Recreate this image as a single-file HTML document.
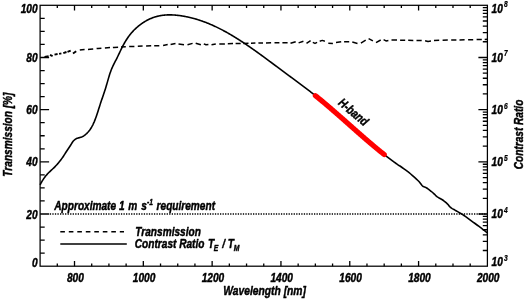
<!DOCTYPE html>
<html><head><meta charset="utf-8"><title>plot</title>
<style>
html,body{margin:0;padding:0;background:#fff;}
body{width:524px;height:300px;overflow:hidden;}
svg{display:block;will-change:transform;}
text{font-family:"Liberation Sans",sans-serif;font-weight:bold;font-style:italic;fill:#000;stroke:#000;stroke-width:0.45px;stroke-linejoin:round;}
</style></head><body>
<svg width="524" height="300" viewBox="0 0 524 300">
<rect width="524" height="300" fill="#fff"/>
<path d="M79.8,50.1 L82.0,49.8 L84.6,49.6 M88.0,49.4 L90.0,49.2 L93.2,48.9 M96.6,48.5 L98.0,48.4 L101.4,48.2 M104.9,48.0 L110.0,47.6 M112.9,47.5 L114.0,47.4 L118.1,47.2 M121.0,47.0 L125.8,46.8 M129.2,46.6 L133.0,46.4 L134.4,46.4 M137.8,46.2 L142.6,46.1 M146.1,46.0 L151.2,45.8 M154.2,45.8 L159.3,45.7 M163.1,45.4 L167.7,44.5 M170.6,44.6 L175.5,43.6 M178.5,44.0 L184.0,44.8 M187.5,44.8 L192.6,43.4 M195.7,43.2 L200.9,44.8 M203.8,43.9 L206.0,44.8 L208.4,44.6 M211.5,44.7 L215.8,44.0 M219.3,44.0 L224.9,43.9 M227.8,43.7 L233.0,43.6 M235.6,43.5 L240.7,43.4 M243.3,43.4 L248.5,43.2 M251.0,43.2 L255.4,43.1 M258.4,43.0 L261.3,42.9 L263.0,42.9 M266.0,42.9 L271.1,42.8 M274.5,42.8 L279.4,42.8 M282.4,42.8 L287.6,42.8 M290.5,43.3 L295.7,41.7 M298.6,42.9 L303.4,41.2 M306.5,43.3 L310.6,40.6 M312.8,42.4 L315.0,43.4 L317.1,42.4 M319.7,41.2 L322.3,40.4 L324.9,41.2 M328.3,43.3 L332.9,43.5 M336.0,42.6 L341.2,41.8 M344.1,41.7 L349.2,41.7 M352.3,42.1 L357.5,43.4 M360.9,43.1 L365.7,40.2 M368.6,38.6 L372.9,40.9 M376.0,42.6 L380.7,40.0 M383.6,39.7 L386.0,40.9 L388.4,40.4 M391.5,40.1 L397.0,40.1 M400.1,40.2 L405.2,40.2 M408.2,40.3 L413.3,40.4 M416.5,40.5 L419.0,40.5 L421.7,40.6 M425.1,40.7 L428.0,41.4 L431.0,41.0 M434.0,40.4 L439.2,40.3 M442.6,40.2 L447.8,40.1 M451.2,40.0 L451.8,40.0 L456.4,39.9 M459.5,39.9 L464.6,39.8 M468.1,39.8 L473.2,39.7 M476.6,39.6 L481.8,39.6 M484.7,39.5 L487.4,39.2" fill="none" stroke="#000" stroke-width="1.5" stroke-linejoin="round"/>
<path d="M44.5,56.9 L48.6,56.3 M50.0,54.9 L52.6,56.2 M54.5,54.6 L57.6,54.0 M59.1,53.9 L61.4,53.3 M63.3,53.1 L66.5,52.0 M67.5,51.9 L70.7,50.6 M73.0,53.5 L76.2,51.2" fill="none" stroke="#000" stroke-width="1.9"/>
<path d="M49.8,214.0 H487.4" fill="none" stroke="#000" stroke-width="1.45" stroke-dasharray="1.3 1.24"/>
<path d="M40.10,184.96 L40.60,183.95 L41.10,182.99 L41.60,182.07 L42.10,181.20 L42.60,180.37 L43.10,179.58 L43.60,178.82 L44.10,178.10 L44.60,177.41 L45.10,176.75 L45.60,176.12 L46.10,175.51 L46.60,174.93 L47.10,174.37 L47.60,173.83 L48.10,173.31 L48.60,172.80 L49.10,172.30 L49.60,171.81 L50.10,171.34 L50.60,170.86 L51.10,170.40 L51.60,169.93 L52.10,169.47 L52.60,169.00 L53.10,168.53 L53.60,168.05 L54.10,167.56 L54.60,167.06 L55.10,166.56 L55.60,166.04 L56.10,165.51 L56.60,164.98 L57.10,164.43 L57.60,163.86 L58.10,163.29 L58.60,162.70 L59.10,162.10 L59.60,161.48 L60.10,160.85 L60.60,160.20 L61.10,159.53 L61.60,158.85 L62.10,158.15 L62.60,157.44 L63.10,156.70 L63.60,155.95 L64.10,155.17 L64.60,154.38 L65.10,153.58 L65.60,152.78 L66.10,151.99 L66.60,151.22 L67.10,150.47 L67.60,149.73 L68.10,149.01 L68.60,148.28 L69.10,147.55 L69.60,146.80 L70.10,146.03 L70.60,145.23 L71.10,144.39 L71.60,143.55 L72.10,142.73 L72.60,141.97 L73.10,141.31 L73.60,140.73 L74.10,140.23 L74.60,139.79 L75.10,139.41 L75.60,139.08 L76.10,138.80 L76.60,138.56 L77.10,138.36 L77.60,138.18 L78.10,138.02 L78.60,137.88 L79.10,137.74 L79.60,137.61 L80.10,137.48 L80.60,137.33 L81.10,137.17 L81.60,136.99 L82.10,136.77 L82.60,136.53 L83.10,136.25 L83.60,135.95 L84.10,135.61 L84.60,135.25 L85.10,134.86 L85.60,134.45 L86.10,134.01 L86.60,133.56 L87.10,133.07 L87.60,132.56 L88.10,132.02 L88.60,131.44 L89.10,130.82 L89.60,130.17 L90.10,129.48 L90.60,128.74 L91.10,127.95 L91.60,127.12 L92.10,126.23 L92.60,125.28 L93.10,124.28 L93.60,123.21 L94.10,122.09 L94.60,120.89 L95.10,119.63 L95.60,118.29 L96.10,116.90 L96.60,115.45 L97.10,113.96 L97.60,112.44 L98.10,110.89 L98.60,109.33 L99.10,107.75 L99.60,106.18 L100.10,104.62 L100.60,103.07 L101.10,101.56 L101.60,100.07 L102.10,98.62 L102.60,97.17 L103.10,95.73 L103.60,94.28 L104.10,92.82 L104.60,91.32 L105.10,89.78 L105.60,88.19 L106.10,86.54 L106.60,84.84 L107.10,83.10 L107.60,81.35 L108.10,79.61 L108.60,77.90 L109.10,76.22 L109.60,74.61 L110.10,73.08 L110.60,71.65 L111.10,70.30 L111.60,69.04 L112.10,67.85 L112.60,66.72 L113.10,65.65 L113.60,64.61 L114.10,63.61 L114.60,62.64 L115.10,61.68 L115.60,60.72 L116.10,59.76 L116.60,58.79 L117.10,57.79 L117.60,56.77 L118.10,55.74 L118.60,54.69 L119.10,53.64 L119.60,52.58 L120.10,51.52 L120.60,50.47 L121.10,49.43 L121.60,48.41 L122.10,47.40 L122.60,46.42 L123.10,45.46 L123.60,44.54 L124.10,43.63 L124.60,42.75 L125.10,41.90 L125.60,41.07 L126.10,40.26 L126.60,39.48 L127.10,38.72 L127.60,37.98 L128.10,37.26 L128.60,36.56 L129.10,35.88 L129.60,35.22 L130.10,34.58 L130.60,33.95 L131.10,33.35 L131.60,32.76 L132.10,32.19 L132.60,31.63 L133.10,31.09 L133.60,30.56 L134.10,30.05 L134.60,29.55 L135.10,29.06 L135.60,28.59 L136.10,28.13 L136.60,27.68 L137.10,27.24 L137.60,26.81 L138.10,26.39 L138.60,25.98 L139.10,25.57 L139.60,25.18 L140.10,24.80 L140.60,24.42 L141.10,24.05 L141.60,23.69 L142.10,23.34 L142.60,23.00 L143.10,22.67 L143.60,22.34 L144.10,22.02 L144.60,21.71 L145.10,21.41 L145.60,21.12 L146.10,20.83 L146.60,20.56 L147.10,20.29 L147.60,20.02 L148.10,19.77 L148.60,19.52 L149.10,19.28 L149.60,19.05 L150.10,18.82 L150.60,18.61 L151.10,18.40 L151.60,18.19 L152.10,17.99 L152.60,17.80 L153.10,17.62 L153.60,17.44 L154.10,17.27 L154.60,17.11 L155.10,16.95 L155.60,16.80 L156.10,16.66 L156.60,16.52 L157.10,16.39 L157.60,16.26 L158.10,16.14 L158.60,16.03 L159.10,15.92 L159.60,15.82 L160.10,15.72 L160.60,15.63 L161.10,15.54 L161.60,15.46 L162.10,15.39 L162.60,15.32 L163.10,15.26 L163.60,15.20 L164.10,15.14 L164.60,15.10 L165.10,15.05 L165.60,15.01 L166.10,14.98 L166.60,14.95 L167.10,14.92 L167.60,14.90 L168.10,14.89 L168.60,14.88 L169.10,14.87 L169.60,14.87 L170.10,14.87 L170.60,14.87 L171.10,14.88 L171.60,14.90 L172.10,14.91 L172.60,14.93 L173.10,14.96 L173.60,14.99 L174.10,15.02 L174.60,15.05 L175.10,15.09 L175.60,15.13 L176.10,15.18 L176.60,15.23 L177.10,15.28 L177.60,15.33 L178.10,15.39 L178.60,15.45 L179.10,15.51 L179.60,15.58 L180.10,15.65 L180.60,15.72 L181.10,15.79 L181.60,15.87 L182.10,15.94 L182.60,16.03 L183.10,16.11 L183.60,16.20 L184.10,16.28 L184.60,16.37 L185.10,16.47 L185.60,16.56 L186.10,16.66 L186.60,16.76 L187.10,16.87 L187.60,16.97 L188.10,17.08 L188.60,17.19 L189.10,17.30 L189.60,17.42 L190.10,17.54 L190.60,17.66 L191.10,17.78 L191.60,17.91 L192.10,18.04 L192.60,18.17 L193.10,18.30 L193.60,18.43 L194.10,18.57 L194.60,18.71 L195.10,18.85 L195.60,19.00 L196.10,19.14 L196.60,19.29 L197.10,19.44 L197.60,19.60 L198.10,19.75 L198.60,19.91 L199.10,20.07 L199.60,20.24 L200.10,20.40 L200.60,20.57 L201.10,20.74 L201.60,20.91 L202.10,21.09 L202.60,21.26 L203.10,21.44 L203.60,21.63 L204.10,21.81 L204.60,22.00 L205.10,22.18 L205.60,22.37 L206.10,22.57 L206.60,22.76 L207.10,22.96 L207.60,23.16 L208.10,23.36 L208.60,23.56 L209.10,23.77 L209.60,23.98 L210.10,24.19 L210.60,24.40 L211.10,24.62 L211.60,24.83 L212.10,25.05 L212.60,25.27 L213.10,25.50 L213.60,25.72 L214.10,25.95 L214.60,26.18 L215.10,26.41 L215.60,26.65 L216.10,26.88 L216.60,27.12 L217.10,27.36 L217.60,27.60 L218.10,27.85 L218.60,28.10 L219.10,28.35 L219.60,28.60 L220.10,28.85 L220.60,29.10 L221.10,29.36 L221.60,29.62 L222.10,29.88 L222.60,30.14 L223.10,30.41 L223.60,30.68 L224.10,30.95 L224.60,31.22 L225.10,31.49 L225.60,31.77 L226.10,32.04 L226.60,32.32 L227.10,32.60 L227.60,32.88 L228.10,33.17 L228.60,33.45 L229.10,33.74 L229.60,34.03 L230.10,34.32 L230.60,34.62 L231.10,34.91 L231.60,35.21 L232.10,35.50 L232.60,35.80 L233.10,36.11 L233.60,36.41 L234.10,36.71 L234.60,37.02 L235.10,37.33 L235.60,37.64 L236.10,37.95 L236.60,38.26 L237.10,38.57 L237.60,38.89 L238.10,39.21 L238.60,39.52 L239.10,39.84 L239.60,40.16 L240.10,40.49 L240.60,40.81 L241.10,41.13 L241.60,41.46 L242.10,41.79 L242.60,42.12 L243.10,42.45 L243.60,42.78 L244.10,43.11 L244.60,43.45 L245.10,43.78 L245.60,44.12 L246.10,44.45 L246.60,44.79 L247.10,45.13 L247.60,45.47 L248.10,45.81 L248.60,46.16 L249.10,46.50 L249.60,46.85 L250.10,47.19 L250.60,47.54 L251.10,47.89 L251.60,48.24 L252.10,48.59 L252.60,48.94 L253.10,49.29 L253.60,49.64 L254.10,49.99 L254.60,50.35 L255.10,50.70 L255.60,51.06 L256.10,51.42 L256.60,51.77 L257.10,52.13 L257.60,52.49 L258.10,52.85 L258.60,53.21 L259.10,53.57 L259.60,53.93 L260.10,54.29 L260.60,54.66 L261.10,55.02 L261.60,55.38 L262.10,55.75 L262.60,56.11 L263.10,56.48 L263.60,56.85 L264.10,57.21 L264.60,57.58 L265.10,57.95 L265.60,58.31 L266.10,58.68 L266.60,59.05 L267.10,59.42 L267.60,59.79 L268.10,60.16 L268.60,60.53 L269.10,60.90 L269.60,61.27 L270.10,61.64 L270.60,62.01 L271.10,62.39 L271.60,62.76 L272.10,63.13 L272.60,63.50 L273.10,63.87 L273.60,64.25 L274.10,64.62 L274.60,64.99 L275.10,65.36 L275.60,65.74 L276.10,66.11 L276.60,66.48 L277.10,66.86 L277.60,67.23 L278.10,67.60 L278.60,67.97 L279.10,68.35 L279.60,68.72 L280.10,69.09 L280.60,69.47 L281.10,69.84 L281.60,70.21 L282.10,70.58 L282.60,70.95 L283.10,71.33 L283.60,71.70 L284.10,72.07 L284.60,72.44 L285.10,72.81 L285.60,73.18 L286.10,73.55 L286.60,73.92 L287.10,74.29 L287.60,74.66 L288.10,75.03 L288.60,75.40 L289.10,75.77 L289.60,76.13 L290.10,76.50 L290.60,76.87 L291.10,77.24 L291.60,77.61 L292.10,77.98 L292.60,78.34 L293.10,78.71 L293.60,79.08 L294.10,79.45 L294.60,79.82 L295.10,80.19 L295.60,80.56 L296.10,80.93 L296.60,81.30 L297.10,81.67 L297.60,82.04 L298.10,82.41 L298.60,82.78 L299.10,83.15 L299.60,83.52 L300.10,83.90 L300.60,84.27 L301.10,84.64 L301.60,85.02 L302.10,85.39 L302.60,85.77 L303.10,86.14 L303.60,86.52 L304.10,86.89 L304.60,87.27 L305.10,87.65 L305.60,88.03 L306.10,88.41 L306.60,88.79 L307.10,89.17 L307.60,89.56 L308.10,89.94 L308.60,90.32 L309.10,90.71 L309.60,91.09 L310.10,91.48 L310.60,91.87 L311.10,92.26 L311.60,92.65 L312.10,93.04 L312.60,93.43 L313.10,93.83 L313.60,94.22 L314.10,94.62 L314.60,95.02 L315.10,95.41 L315.60,95.82 L316.10,96.22 L316.60,96.62 L317.10,97.02 L317.60,97.43 L318.10,97.83 L318.60,98.24 L319.10,98.65 L319.60,99.06 L320.10,99.47 L320.60,99.88 L321.10,100.29 L321.60,100.71 L322.10,101.12 L322.60,101.54 L323.10,101.96 L323.60,102.38 L324.10,102.79 L324.60,103.21 L325.10,103.64 L325.60,104.06 L326.10,104.48 L326.60,104.90 L327.10,105.33 L327.60,105.75 L328.10,106.18 L328.60,106.61 L329.10,107.03 L329.60,107.46 L330.10,107.89 L330.60,108.32 L331.10,108.75 L331.60,109.18 L332.10,109.61 L332.60,110.05 L333.10,110.48 L333.60,110.91 L334.10,111.35 L334.60,111.78 L335.10,112.22 L335.60,112.65 L336.10,113.09 L336.60,113.53 L337.10,113.96 L337.60,114.40 L338.10,114.84 L338.60,115.28 L339.10,115.72 L339.60,116.16 L340.10,116.60 L340.60,117.04 L341.10,117.48 L341.60,117.92 L342.10,118.36 L342.60,118.80 L343.10,119.24 L343.60,119.69 L344.10,120.13 L344.60,120.57 L345.10,121.01 L345.60,121.45 L346.10,121.90 L346.60,122.34 L347.10,122.78 L347.60,123.22 L348.10,123.67 L348.60,124.11 L349.10,124.55 L349.60,125.00 L350.10,125.44 L350.60,125.88 L351.10,126.32 L351.60,126.77 L352.10,127.21 L352.60,127.65 L353.10,128.09 L353.60,128.54 L354.10,128.98 L354.60,129.42 L355.10,129.86 L355.60,130.30 L356.10,130.74 L356.60,131.18 L357.10,131.63 L357.60,132.07 L358.10,132.50 L358.60,132.94 L359.10,133.38 L359.60,133.82 L360.10,134.26 L360.60,134.70 L361.10,135.14 L361.60,135.57 L362.10,136.01 L362.60,136.44 L363.10,136.88 L363.60,137.31 L364.10,137.75 L364.60,138.18 L365.10,138.62 L365.60,139.05 L366.10,139.48 L366.60,139.91 L367.10,140.34 L367.60,140.77 L368.10,141.20 L368.60,141.63 L369.10,142.06 L369.60,142.48 L370.10,142.91 L370.60,143.33 L371.10,143.76 L371.60,144.18 L372.10,144.60 L372.60,145.03 L373.10,145.45 L373.60,145.87 L374.10,146.29 L374.60,146.70 L375.10,147.12 L375.60,147.54 L376.10,147.95 L376.60,148.37 L377.10,148.78 L377.60,149.19 L378.10,149.60 L378.60,150.01 L379.10,150.42 L379.60,150.83 L380.10,151.23 L380.60,151.64 L381.10,152.04 L381.60,152.44 L382.10,152.84 L382.60,153.24 L383.10,153.64 L383.60,154.04 L384.10,154.44 L384.60,154.83 L385.10,155.22 L385.60,155.62 L386.10,156.01 L386.60,156.40 L387.10,156.78 L387.60,157.17 L388.10,157.55 L388.60,157.94 L389.10,158.32 L389.60,158.70 L390.10,159.08 L390.60,159.45 L391.10,159.83 L391.60,160.20 L392.10,160.58 L392.60,160.95 L393.10,161.31 L393.60,161.68 L394.10,162.05 L394.60,162.41 L395.10,162.77 L395.60,163.13 L396.10,163.49 L396.60,163.85 L397.10,164.20 L397.60,164.55 L398.10,164.91 L398.60,165.25 L399.10,165.60 L399.60,165.95 L400.00,166.00 L402.06,167.48 L403.99,168.87 L405.79,170.19 L407.49,171.47 L409.12,172.73 L410.70,174.00 L412.24,175.29 L413.71,176.58 L415.12,177.85 L416.43,179.08 L417.63,180.24 L418.70,181.30 L419.60,182.28 L420.33,183.19 L420.95,184.04 L421.51,184.81 L422.08,185.50 L422.70,186.10 L423.35,186.56 L423.99,186.87 L424.62,187.10 L425.27,187.32 L425.96,187.60 L426.70,188.00 L427.51,188.54 L428.37,189.15 L429.27,189.82 L430.19,190.53 L431.10,191.26 L432.00,192.00 L432.88,192.77 L433.76,193.60 L434.64,194.45 L435.53,195.29 L436.41,196.08 L437.30,196.80 L438.21,197.43 L439.14,197.99 L440.08,198.50 L441.00,198.99 L441.88,199.49 L442.70,200.00 L443.45,200.52 L444.14,201.03 L444.79,201.53 L445.42,202.05 L446.05,202.60 L446.70,203.20 L447.35,203.87 L447.99,204.59 L448.62,205.35 L449.27,206.11 L449.96,206.83 L450.70,207.50 L451.48,208.08 L452.27,208.59 L453.10,209.07 L453.99,209.56 L454.95,210.09 L456.00,210.70 L457.18,211.40 L458.47,212.14 L459.83,212.94 L461.23,213.77 L462.64,214.62 L464.00,215.50 L465.33,216.41 L466.67,217.36 L468.00,218.33 L469.33,219.32 L470.67,220.32 L472.00,221.30 L473.34,222.28 L474.69,223.27 L476.04,224.26 L477.38,225.24 L478.70,226.23 L480.00,227.20 L481.35,228.23 L482.79,229.33 L484.20,230.42 L485.50,231.43 L486.60,232.28 L487.40,232.90" fill="none" stroke="#000" stroke-width="1.6" stroke-linejoin="round"/>
<path d="M315.40,95.66 L315.60,95.82 L316.10,96.22 L316.60,96.62 L317.10,97.02 L317.60,97.43 L318.10,97.83 L318.60,98.24 L319.10,98.65 L319.60,99.06 L320.10,99.47 L320.60,99.88 L321.10,100.29 L321.60,100.71 L322.10,101.12 L322.60,101.54 L323.10,101.96 L323.60,102.38 L324.10,102.79 L324.60,103.21 L325.10,103.64 L325.60,104.06 L326.10,104.48 L326.60,104.90 L327.10,105.33 L327.60,105.75 L328.10,106.18 L328.60,106.61 L329.10,107.03 L329.60,107.46 L330.10,107.89 L330.60,108.32 L331.10,108.75 L331.60,109.18 L332.10,109.61 L332.60,110.05 L333.10,110.48 L333.60,110.91 L334.10,111.35 L334.60,111.78 L335.10,112.22 L335.60,112.65 L336.10,113.09 L336.60,113.53 L337.10,113.96 L337.60,114.40 L338.10,114.84 L338.60,115.28 L339.10,115.72 L339.60,116.16 L340.10,116.60 L340.60,117.04 L341.10,117.48 L341.60,117.92 L342.10,118.36 L342.60,118.80 L343.10,119.24 L343.60,119.69 L344.10,120.13 L344.60,120.57 L345.10,121.01 L345.60,121.45 L346.10,121.90 L346.60,122.34 L347.10,122.78 L347.60,123.22 L348.10,123.67 L348.60,124.11 L349.10,124.55 L349.60,125.00 L350.10,125.44 L350.60,125.88 L351.10,126.32 L351.60,126.77 L352.10,127.21 L352.60,127.65 L353.10,128.09 L353.60,128.54 L354.10,128.98 L354.60,129.42 L355.10,129.86 L355.60,130.30 L356.10,130.74 L356.60,131.18 L357.10,131.63 L357.60,132.07 L358.10,132.50 L358.60,132.94 L359.10,133.38 L359.60,133.82 L360.10,134.26 L360.60,134.70 L361.10,135.14 L361.60,135.57 L362.10,136.01 L362.60,136.44 L363.10,136.88 L363.60,137.31 L364.10,137.75 L364.60,138.18 L365.10,138.62 L365.60,139.05 L366.10,139.48 L366.60,139.91 L367.10,140.34 L367.60,140.77 L368.10,141.20 L368.60,141.63 L369.10,142.06 L369.60,142.48 L370.10,142.91 L370.60,143.33 L371.10,143.76 L371.60,144.18 L372.10,144.60 L372.60,145.03 L373.10,145.45 L373.60,145.87 L374.10,146.29 L374.60,146.70 L375.10,147.12 L375.60,147.54 L376.10,147.95 L376.60,148.37 L377.10,148.78 L377.60,149.19 L378.10,149.60 L378.60,150.01 L379.10,150.42 L379.60,150.83 L380.10,151.23 L380.60,151.64 L381.10,152.04 L381.60,152.44 L382.10,152.84 L382.60,153.24 L383.10,153.64 L383.60,154.04 L384.10,154.44 L384.20,154.52" fill="none" stroke="#f00" stroke-width="5.2" stroke-linecap="round" stroke-linejoin="round"/>
<path d="M60.3,231.8 H124" fill="none" stroke="#000" stroke-width="1.4" stroke-dasharray="4.6 3.9"/>
<path d="M60.3,244 H126.8" fill="none" stroke="#000" stroke-width="1.5"/>
<path d="M57.30,266.20 v-2.60 M57.30,5.30 v2.60 M74.51,266.20 v-5.20 M74.51,5.30 v5.20 M91.71,266.20 v-2.60 M91.71,5.30 v2.60 M108.92,266.20 v-2.60 M108.92,5.30 v2.60 M126.12,266.20 v-2.60 M126.12,5.30 v2.60 M143.32,266.20 v-5.20 M143.32,5.30 v5.20 M160.53,266.20 v-2.60 M160.53,5.30 v2.60 M177.73,266.20 v-2.60 M177.73,5.30 v2.60 M194.93,266.20 v-2.60 M194.93,5.30 v2.60 M212.14,266.20 v-5.20 M212.14,5.30 v5.20 M229.34,266.20 v-2.60 M229.34,5.30 v2.60 M246.55,266.20 v-2.60 M246.55,5.30 v2.60 M263.75,266.20 v-2.60 M263.75,5.30 v2.60 M280.95,266.20 v-5.20 M280.95,5.30 v5.20 M298.16,266.20 v-2.60 M298.16,5.30 v2.60 M315.36,266.20 v-2.60 M315.36,5.30 v2.60 M332.57,266.20 v-2.60 M332.57,5.30 v2.60 M349.77,266.20 v-5.20 M349.77,5.30 v5.20 M366.97,266.20 v-2.60 M366.97,5.30 v2.60 M384.18,266.20 v-2.60 M384.18,5.30 v2.60 M401.38,266.20 v-2.60 M401.38,5.30 v2.60 M418.58,266.20 v-5.20 M418.58,5.30 v5.20 M435.79,266.20 v-2.60 M435.79,5.30 v2.60 M452.99,266.20 v-2.60 M452.99,5.30 v2.60 M470.20,266.20 v-2.60 M470.20,5.30 v2.60 M40.10,253.16 h4.60 M40.10,240.11 h4.60 M40.10,227.06 h4.60 M40.10,214.02 h9.00 M40.10,200.97 h4.60 M40.10,187.93 h4.60 M40.10,174.88 h4.60 M40.10,161.84 h9.00 M40.10,148.80 h4.60 M40.10,135.75 h4.60 M40.10,122.70 h4.60 M40.10,109.66 h9.00 M40.10,96.62 h4.60 M40.10,83.57 h4.60 M40.10,70.53 h4.60 M40.10,57.48 h9.00 M40.10,44.44 h4.60 M40.10,31.39 h4.60 M40.10,18.35 h4.60 M487.40,250.49 h-4.60 M487.40,241.30 h-4.60 M487.40,234.78 h-4.60 M487.40,229.73 h-4.60 M487.40,225.60 h-4.60 M487.40,222.10 h-4.60 M487.40,219.08 h-4.60 M487.40,216.41 h-4.60 M487.40,214.02 h-9.00 M487.40,198.31 h-4.60 M487.40,189.12 h-4.60 M487.40,182.60 h-4.60 M487.40,177.55 h-4.60 M487.40,173.42 h-4.60 M487.40,169.92 h-4.60 M487.40,166.90 h-4.60 M487.40,164.23 h-4.60 M487.40,161.84 h-9.00 M487.40,146.13 h-4.60 M487.40,136.94 h-4.60 M487.40,130.42 h-4.60 M487.40,125.37 h-4.60 M487.40,121.24 h-4.60 M487.40,117.74 h-4.60 M487.40,114.72 h-4.60 M487.40,112.05 h-4.60 M487.40,109.66 h-9.00 M487.40,93.95 h-4.60 M487.40,84.76 h-4.60 M487.40,78.24 h-4.60 M487.40,73.19 h-4.60 M487.40,69.06 h-4.60 M487.40,65.56 h-4.60 M487.40,62.54 h-4.60 M487.40,59.87 h-4.60 M487.40,57.48 h-9.00 M487.40,41.77 h-4.60 M487.40,32.58 h-4.60 M487.40,26.06 h-4.60 M487.40,21.01 h-4.60 M487.40,16.88 h-4.60 M487.40,13.38 h-4.60 M487.40,10.36 h-4.60 M487.40,7.69 h-4.60" fill="none" stroke="#000" stroke-width="1.3"/>
<rect x="40.10" y="5.30" width="447.30" height="260.90" fill="none" stroke="#000" stroke-width="1.25"/>
<text transform="translate(75.31,282.10) scale(0.81,1)" text-anchor="middle" font-size="12.5">800</text>
<text transform="translate(144.12,282.10) scale(0.81,1)" text-anchor="middle" font-size="12.5">1000</text>
<text transform="translate(212.94,282.10) scale(0.81,1)" text-anchor="middle" font-size="12.5">1200</text>
<text transform="translate(281.75,282.10) scale(0.81,1)" text-anchor="middle" font-size="12.5">1400</text>
<text transform="translate(350.57,282.10) scale(0.81,1)" text-anchor="middle" font-size="12.5">1600</text>
<text transform="translate(419.38,282.10) scale(0.81,1)" text-anchor="middle" font-size="12.5">1800</text>
<text transform="translate(488.20,282.10) scale(0.81,1)" text-anchor="middle" font-size="12.5">2000</text>
<text transform="translate(37.60,266.50) scale(0.81,1)" text-anchor="end" font-size="12.5">0</text>
<text transform="translate(37.60,218.52) scale(0.81,1)" text-anchor="end" font-size="12.5">20</text>
<text transform="translate(37.60,166.34) scale(0.81,1)" text-anchor="end" font-size="12.5">40</text>
<text transform="translate(37.60,114.16) scale(0.81,1)" text-anchor="end" font-size="12.5">60</text>
<text transform="translate(37.60,61.98) scale(0.81,1)" text-anchor="end" font-size="12.5">80</text>
<text transform="translate(37.60,12.80) scale(0.81,1)" text-anchor="end" font-size="12.5">100</text>
<text transform="translate(491.60,266.30) scale(0.81,1)" text-anchor="start" font-size="12.5">10<tspan font-size="8.2" dy="-5.5" dx="1.3" stroke-width="0.25">3</tspan></text>
<text transform="translate(491.60,218.42) scale(0.81,1)" text-anchor="start" font-size="12.5">10<tspan font-size="8.2" dy="-5.5" dx="1.3" stroke-width="0.25">4</tspan></text>
<text transform="translate(491.60,166.24) scale(0.81,1)" text-anchor="start" font-size="12.5">10<tspan font-size="8.2" dy="-5.5" dx="1.3" stroke-width="0.25">5</tspan></text>
<text transform="translate(491.60,114.06) scale(0.81,1)" text-anchor="start" font-size="12.5">10<tspan font-size="8.2" dy="-5.5" dx="1.3" stroke-width="0.25">6</tspan></text>
<text transform="translate(491.60,61.88) scale(0.81,1)" text-anchor="start" font-size="12.5">10<tspan font-size="8.2" dy="-5.5" dx="1.3" stroke-width="0.25">7</tspan></text>
<text transform="translate(491.60,12.70) scale(0.81,1)" text-anchor="start" font-size="12.5">10<tspan font-size="8.2" dy="-5.5" dx="1.3" stroke-width="0.25">8</tspan></text>
<text transform="translate(264.60,295.40) scale(0.824,1)" text-anchor="middle" font-size="12.5">Wavelength [nm]</text>
<text transform="translate(12.00,134.60) rotate(-90) scale(0.81,1)" text-anchor="middle" font-size="12.5">Transmission [%]</text>
<text transform="translate(523.00,134.50) rotate(-90) scale(0.81,1)" text-anchor="middle" font-size="12.5">Contrast Ratio</text>
<text transform="translate(54.30,210.00) scale(0.81,1)" text-anchor="start" font-size="12.5">Approximate 1<tspan dx="1.2"> m</tspan><tspan dx="1.3"> s</tspan><tspan font-size="8.3" dy="-5.1" dx="0.3" stroke-width="0.35">-1</tspan><tspan dy="5.1" dx="0.9"> requirement</tspan></text>
<text transform="translate(135.30,236.00) scale(0.81,1)" text-anchor="start" font-size="12.5">Transmission</text>
<text transform="translate(134.80,247.90) scale(0.81,1)" text-anchor="start" font-size="12.5">Contrast Ratio<tspan dx="4.5">T</tspan><tspan font-size="8.4" dy="3.4" dx="-0.6" stroke-width="0.4">E</tspan><tspan dy="-3.4" dx="1.2"> / T</tspan><tspan font-size="8.4" dy="3.4" dx="-0.3" stroke-width="0.4">M</tspan></text>
<text transform="translate(353.50,112.00) rotate(40) scale(0.81,1)" text-anchor="middle" font-size="12.5" dy="4.3">H-band</text>
</svg>
</body></html>
